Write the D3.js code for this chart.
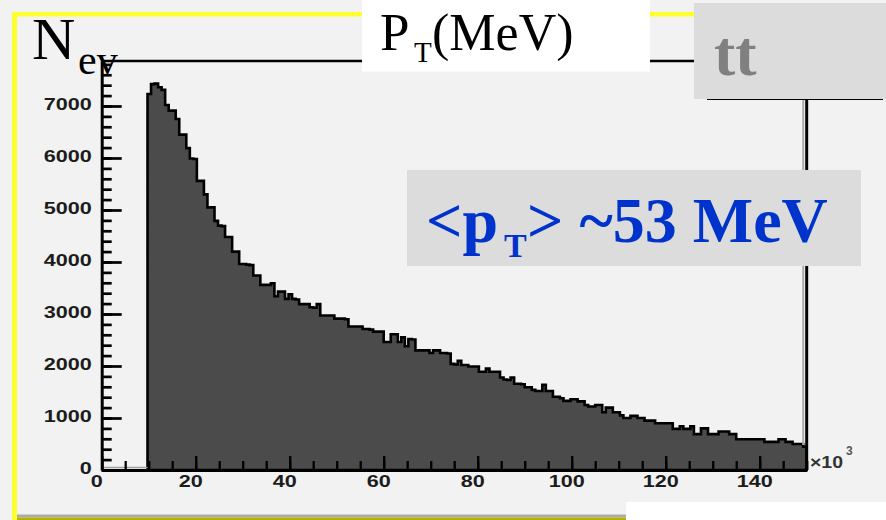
<!DOCTYPE html>
<html>
<head>
<meta charset="utf-8">
<script src="https://cdn.jsdelivr.net/npm/d3@7"></script>
<style>
body { margin: 0; background: #f2f2f2; }
svg { display: block; }
.serif { font-family: "Liberation Serif", "Times New Roman", serif; }
</style>
</head>
<body>
<div id="viz"></div>
<script>
// pT spectrum, counts per bin (bins of 0.75 x10^3 MeV starting at 9.75)
var binLow = 9.75,
	binWidth = 0.75;
var counts = [
	7230, 7420, 7430, 7360, 7310, 7020, 6910, 6910, 6750, 6450,
	6450, 6190, 5990, 5980, 5560, 5560, 5300, 5050, 5050, 4790,
	4700, 4690, 4480, 4480, 4200, 4200, 3960, 3960, 3950, 3940,
	3740, 3740, 3560, 3560, 3560, 3590, 3340, 3430, 3430, 3290,
	3380, 3290, 3280, 3190, 3190, 3190, 3130, 3120, 3190, 2970,
	2970, 2970, 2970, 2910, 2910, 2910, 2900, 2760, 2760, 2760,
	2760, 2710, 2710, 2700, 2660, 2660, 2660, 2460, 2460, 2610,
	2610, 2460, 2550, 2380, 2520, 2510, 2300, 2300, 2300, 2300,
	2250, 2300, 2300, 2250, 2250, 2240, 2040, 2030, 2100, 2020,
	2020, 1990, 1990, 1990, 1890, 1890, 1950, 1890, 1890, 1890,
	1780, 1740, 1730, 1780, 1660, 1660, 1650, 1590, 1590, 1540,
	1520, 1520, 1640, 1520, 1520, 1410, 1410, 1380, 1330, 1330,
	1360, 1360, 1320, 1320, 1250, 1220, 1220, 1250, 1250, 1110,
	1200, 1200, 1110, 1110, 1050, 1000, 1000, 1040, 1040, 1000,
	1000, 950, 950, 950, 900, 900, 900, 900, 900, 790,
	790, 840, 790, 790, 840, 690, 690, 800, 800, 690,
	690, 690, 740, 740, 740, 690, 690, 590, 590, 590,
	590, 590, 590, 590, 590, 540, 540, 540, 540, 590,
	590, 540, 540, 500, 500, 500, 450
];
var xDomain = [0, 150],
	yDomain = [0, 7865];
var xTicks = [0, 20, 40, 60, 80, 100, 120, 140],
	yTicks = [0, 1000, 2000, 3000, 4000, 5000, 6000, 7000];
var xMinorStep = 5,
	yMinorStep = 200;

var w = 886,
	h = 520;

var svg = d3.select('#viz').append('svg')
	.attr('width', w)
	.attr('height', h);

var x = d3.scaleLinear().domain(xDomain).range([101.7, 806.7]),
	y = d3.scaleLinear().domain(yDomain).range([470, 61]);

svg.append('rect')
	.attr('width', w).attr('height', h)
	.attr('fill', '#f2f2f2');

//yellow frame
svg.append('rect').attr('x', 12).attr('y', 12).attr('width', 5).attr('height', h - 12).attr('fill', '#ffff30');
svg.append('rect').attr('x', 12).attr('y', 12).attr('width', w - 12).attr('height', 4.5).attr('fill', '#ffff30');
svg.append('rect').attr('x', 17).attr('y', 514.5).attr('width', 610).attr('height', 3).attr('fill', '#ababab');
svg.append('rect').attr('x', 17).attr('y', 517.5).attr('width', 610).attr('height', 3).attr('fill', '#b4b400');

//histogram
var pts = [[x(binLow), y(0)]];
counts.forEach(function(c, i){
	var lo = binLow + i * binWidth;
	pts.push([x(lo), y(c)]);
	pts.push([x(lo + binWidth), y(c)]);
});
pts.push([x(binLow + counts.length * binWidth), y(0)]);

svg.append('path')
	.attr('d', d3.line()(pts) + 'Z')
	.attr('fill', '#4b4b4b')
	.attr('stroke', '#000')
	.attr('stroke-width', 2.6)
	.attr('stroke-linejoin', 'miter');

svg.append('line')
	.attr('x1', x(0)).attr('x2', x(binLow))
	.attr('y1', y(0) - 2.5).attr('y2', y(0) - 2.5)
	.attr('stroke', '#a0a0a0').attr('stroke-width', 1.5);

svg.append('line')
	.attr('x1', x(150) - 3.5).attr('x2', x(150) - 3.5)
	.attr('y1', y(yDomain[1])).attr('y2', y(0) - 25)
	.attr('stroke', '#aaa').attr('stroke-width', 2);

//frame
svg.append('line')
	.attr('x1', x(0)).attr('x2', x(150) + 1.5)
	.attr('y1', y(yDomain[1])).attr('y2', y(yDomain[1]))
	.attr('stroke', '#000').attr('stroke-width', 2.7);
svg.append('line')
	.attr('x1', x(150)).attr('x2', x(150))
	.attr('y1', y(yDomain[1])).attr('y2', y(0))
	.attr('stroke', '#000').attr('stroke-width', 3);

function styleLabels(sel, digitW, size) {
	sel.selectAll('text')
		.style('font-family', '"Liberation Sans", Arial, sans-serif')
		.style('font-weight', 'bold')
		.style('font-size', size + 'px')
		.attr('fill', '#1c1c1c')
		.attr('textLength', function(d){ return String(d).length * digitW; })
		.attr('lengthAdjust', 'spacingAndGlyphs');
}

//y axis
var yMinor = svg.append('g')
	.attr('transform', 'translate(' + x(0) + ',0)')
	.call(d3.axisLeft(y).tickValues(d3.range(0, yDomain[1], yMinorStep)).tickSizeInner(-10).tickSizeOuter(0).tickFormat(''));
yMinor.select('.domain').remove();
yMinor.selectAll('.tick line').attr('stroke-width', 2.7);

var yAxis = svg.append('g')
	.attr('transform', 'translate(' + x(0) + ',0)')
	.call(d3.axisLeft(y).tickValues(yTicks).tickSizeInner(-20).tickSizeOuter(0).tickPadding(10).tickFormat(d3.format('d')));
yAxis.select('.domain').attr('stroke-width', 3);
yAxis.selectAll('.tick line').attr('stroke-width', 2.7);
styleLabels(yAxis, 12, 16);
yAxis.selectAll('text').attr('dy', '0.22em');

//x axis
var xMinor = svg.append('g')
	.attr('transform', 'translate(0,' + y(0) + ')')
	.call(d3.axisBottom(x).tickValues(d3.range(0, 151, xMinorStep)).tickSizeInner(-9).tickSizeOuter(0).tickFormat(''));
xMinor.select('.domain').remove();
xMinor.selectAll('.tick line').attr('stroke-width', 2.3);

var xAxis = svg.append('g')
	.attr('transform', 'translate(0,' + y(0) + ')')
	.call(d3.axisBottom(x).tickValues(xTicks).tickSizeInner(-14).tickSizeOuter(0).tickPadding(6).tickFormat(d3.format('d')));
xAxis.select('.domain').attr('stroke-width', 2.8);
xAxis.selectAll('.tick line').attr('stroke-width', 2.3);
styleLabels(xAxis, 12, 16);
xAxis.selectAll('text').attr('dx', -5.5);

svg.append('text')
	.attr('x', 810).attr('y', 468)
	.attr('textLength', 33).attr('lengthAdjust', 'spacingAndGlyphs')
	.style('font-family', '"Liberation Sans", Arial, sans-serif')
	.style('font-weight', 'bold').style('font-size', '16px')
	.attr('fill', '#333')
	.text('\u00d710');
svg.append('text')
	.attr('x', 846).attr('y', 455)
	.style('font-family', '"Liberation Sans", Arial, sans-serif')
	.style('font-weight', 'bold').style('font-size', '12px')
	.attr('fill', '#555')
	.text('3');

//boxes
svg.append('rect').attr('x', 362).attr('y', 0).attr('width', 288).attr('height', 71.5).attr('fill', '#fff');
svg.append('rect').attr('x', 694).attr('y', 3).attr('width', 192).attr('height', 96).attr('fill', '#dcdcdc');
svg.append('line').attr('x1', 707).attr('x2', 883).attr('y1', 99.5).attr('y2', 99.5).attr('stroke', '#000').attr('stroke-width', 1);
svg.append('rect').attr('x', 407).attr('y', 170).attr('width', 454).attr('height', 96).attr('fill', '#dcdcdc');
svg.append('rect').attr('x', 626).attr('y', 502).attr('width', 260).attr('height', 18).attr('fill', '#fff');

//labels
svg.append('text').attr('class', 'serif')
	.attr('x', 32).attr('y', 59).style('font-size', '60px').attr('fill', '#000')
	.text('N');
svg.append('text').attr('class', 'serif')
	.attr('x', 78).attr('y', 74).style('font-size', '42px').attr('fill', '#000')
	.text('ev');

svg.append('text').attr('class', 'serif')
	.attr('x', 380).attr('y', 49.5).style('font-size', '53px').attr('fill', '#000')
	.text('P');
svg.append('text').attr('class', 'serif')
	.attr('x', 414).attr('y', 61.7).style('font-size', '29px').attr('fill', '#000')
	.text('T');
svg.append('text').attr('class', 'serif')
	.attr('x', 432).attr('y', 49.5).style('font-size', '52px').attr('fill', '#000')
	.text('(MeV)');

svg.append('text').attr('class', 'serif')
	.attr('x', 714).attr('y', 75).style('font-size', '64px').style('font-weight', 'bold').attr('fill', '#808080')
	.text('tt');

var blue = '#0033cc';
svg.append('text').attr('class', 'serif')
	.attr('x', 426).attr('y', 241.7).style('font-size', '64px').style('font-weight', 'bold').attr('fill', blue)
	.text('<p');
svg.append('text').attr('class', 'serif')
	.attr('x', 504).attr('y', 256.7).style('font-size', '34px').style('font-weight', 'bold').attr('fill', blue)
	.text('T');
svg.append('text').attr('class', 'serif')
	.attr('x', 527).attr('y', 241.7).style('font-size', '64px').style('font-weight', 'bold').attr('fill', blue)
	.text('> ~53 MeV');
</script>
</body>
</html>
